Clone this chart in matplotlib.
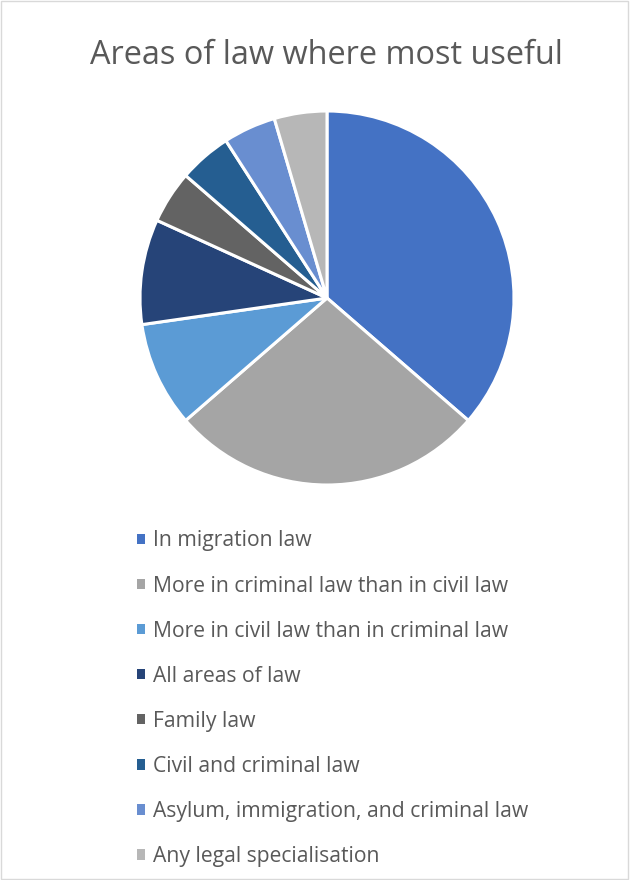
import matplotlib.pyplot as plt
from matplotlib.patches import Rectangle

# response counts per area of law (out of 22)
labels = [
    "In migration law",
    "More in criminal law than in civil law",
    "More in civil law than in criminal law",
    "All areas of law",
    "Family law",
    "Civil and criminal law",
    "Asylum, immigration, and criminal law",
    "Any legal specialisation",
]
counts = [8, 6, 2, 2, 1, 1, 1, 1]
colors = ["#4472C4", "#A5A5A5", "#5B9BD5", "#264478",
          "#636363", "#255E91", "#698ED0", "#B7B7B7"]

plt.rcParams["font.family"] = ["Open Sans", "DejaVu Sans"]
txt = "#595959"

fig = plt.figure(figsize=(6.3, 8.8), dpi=100)

# pie centred at (327, 298) px, radius ~187 px
r = 187
cx, cy = 327, 298
ax = fig.add_axes([(cx - r) / 630, (880 - cy - r) / 880, 2 * r / 630, 2 * r / 880])
wedges, _ = ax.pie(counts, colors=colors, startangle=90, counterclock=False,
                   wedgeprops=dict(edgecolor="white", linewidth=2.2))
ax.set_aspect("equal")
ax.set_xlim(-1, 1); ax.set_ylim(-1, 1)
ax.axis("off")

fig.text(326 / 630, 1 - 55 / 880, "Areas of law where most useful", ha="center", va="center",
         fontsize=23.4, color=txt)

leg = fig.legend(wedges, labels, loc="upper left", bbox_to_anchor=(128.5 / 630, 1 - 522 / 880),
                 frameon=False, fontsize=15.2, labelcolor=txt,
                 handlelength=0.4, handleheight=0.4, handletextpad=0.36,
                 labelspacing=1.14, borderaxespad=0)
for h in leg.legend_handles:
    h.set_linewidth(0)

# thin light-grey frame round the chart area
fig.patches.append(Rectangle((1 / 630, 1 / 880), 627 / 630, 878 / 880, transform=fig.transFigure,
                             fill=False, edgecolor="#D9D9D9", linewidth=1))

fig.savefig("out.png", dpi=100)
